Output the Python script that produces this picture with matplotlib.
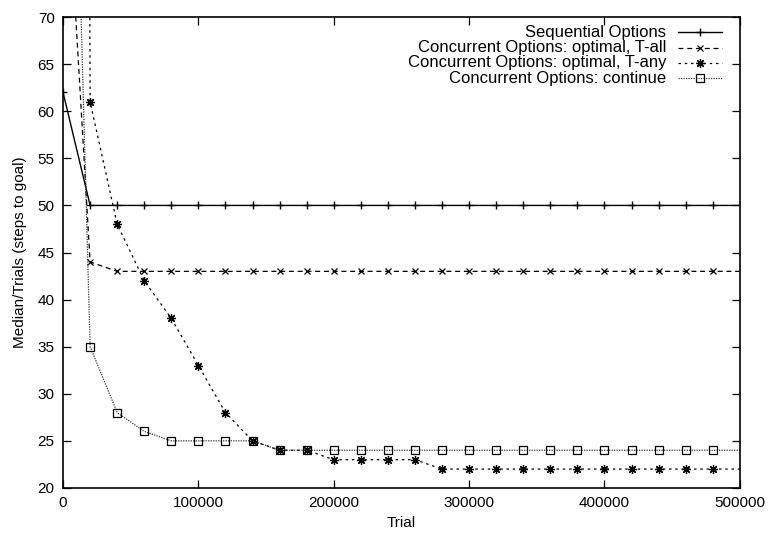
import matplotlib
matplotlib.use("Agg")
import matplotlib.pyplot as plt
from matplotlib.lines import Line2D

plt.rcParams['font.family'] = ['Liberation Sans', 'DejaVu Sans']

trials = list(range(0, 500001, 20000))

sequential = [62] + [50] * 25
t_all = [93, 44] + [43] * 24
t_any = [900, 61, 48, 42, 38, 33, 28, 25, 24, 24, 23, 23, 23, 23] + [22] * 12
cont = [140, 35, 28, 26, 25, 25, 25, 25, 24] + [24] * 17

labels = ["Sequential Options",
          "Concurrent Options: optimal, T-all",
          "Concurrent Options: optimal, T-any",
          "Concurrent Options: continue"]

fig = plt.figure(figsize=(7.69, 5.35), dpi=100)
ax = fig.add_axes([0.082, 0.088, 0.88, 0.880])

mk = list(range(0, 25))  # markers up to 480000
styles = [
    dict(color='black', lw=1.0, ls='-', marker='+', ms=6, mew=1.0),
    dict(color='black', lw=0.9, ls=(0, (4, 3)), marker='x', ms=5, mew=0.9),
    dict(color='black', lw=0.9, ls=(0, (2, 3)), marker=(8, 2, 0), ms=6.5, mew=0.9),
    dict(color='#333333', lw=0.9, ls=(0, (1, 1)), marker='s', ms=5.5,
         mfc='none', mec='black', mew=0.9),
]
series = [sequential, t_all, t_any, cont]
for ys, st in zip(series, styles):
    ax.plot(trials, ys, markevery=mk, **st)

ax.set_xlim(0, 500000)
ax.set_ylim(20, 70)
ax.set_xticks(range(0, 500001, 100000))
ax.set_yticks(range(20, 71, 5))
ax.tick_params(direction='in', length=6, width=0.9, top=True, right=True,
               labelsize=11, pad=6)
for s in ax.spines.values():
    s.set_linewidth(1.2)

ax.set_xlabel("Trial", fontsize=11, labelpad=4)
ax.set_ylabel("Median/Trials (steps to goal)", fontsize=11, labelpad=8)

# gnuplot-style key: right-aligned text, sample to the right
row_y = [0.968, 0.935, 0.903, 0.870]
for lab, st, yy in zip(labels, styles, row_y):
    ax.text(0.891, yy, lab, transform=ax.transAxes, ha='right', va='center',
            fontsize=12)
    ln = Line2D([0.908, 0.941, 0.973], [yy, yy, yy], transform=ax.transAxes,
                markevery=[1], clip_on=False, **st)
    ax.add_line(ln)

fig.savefig("out.png", dpi=100)
